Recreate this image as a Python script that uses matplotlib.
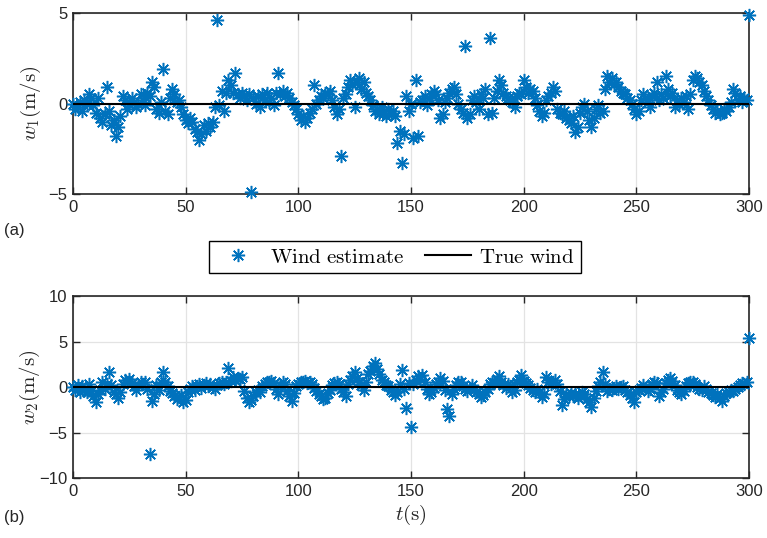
import numpy as np
import matplotlib
matplotlib.use("Agg")
import matplotlib.pyplot as plt

# time axis, one sample per second
t = np.arange(0, 301)

# wind estimate, east component w1 (m/s)
w1 = [
    0.0, -0.3, -0.2, 0.1, -0.4, 0.2, 0.0, 0.5, 0.3, -0.1,
    -0.5, 0.3, -0.8, -1.0, -0.6, 0.9, -0.4, -1.2, -0.9, -1.8,
    -1.3, -0.7, 0.4, 0.2, -0.3, 0.0, 0.3, 0.1, -0.2, 0.0,
    0.5, 0.2, -0.1, 0.6, 0.4, 1.2, 0.9, -0.3, -0.5, 0.1,
    1.9, -0.4, -0.6, 0.3, 0.8, 0.5, 0.1, 0.2, -0.2, -0.6,
    -0.9, -1.1, -0.8, -1.0, -1.4, -1.6, -2.0, -1.7, -1.2, -1.5,
    -1.1, -1.3, -1.0, -0.2, 4.6, -0.1, 0.7, -0.4, 0.6, 1.3,
    1.0, 0.6, 1.7, 0.5, 0.3, 0.6, 0.4, 0.2, 0.5, -4.9,
    0.3, 0.0, 0.4, -0.2, 0.5, 0.2, 0.6, 0.1, 0.3, -0.1,
    0.6, 1.7, 0.5, 0.7, 0.4, 0.6, 0.3, 0.1, -0.1, -0.3,
    -0.6, -0.9, -0.7, -1.0, -0.8, -0.5, -0.3, 1.0, 0.0, 0.2,
    0.4, 0.3, 0.6, 0.5, 0.7, 0.2, -0.2, -0.6, -0.3, -2.9,
    0.3, 0.5, 0.9, 1.3, 1.1, -0.2, 1.2, 1.4, 0.8, 1.2,
    0.6, 0.4, 0.2, -0.1, -0.4, -0.3, -0.6, -0.2, -0.5, -0.7,
    -0.3, -0.6, -0.4, -0.7, -2.2, -1.5, -3.3, -1.7, 0.4, -0.4,
    0.0, -1.9, 1.3, -1.8, 0.1, 0.2, 0.4, -0.1, 0.3, 0.5,
    0.7, 0.5, 0.2, -0.8, -0.6, 0.1, 0.3, 0.6, 0.8, 0.9,
    0.5, 0.0, -0.3, -0.5, 3.2, -0.8, -0.6, 0.2, 0.4, 0.1,
    -0.3, 0.5, 0.3, 0.8, -0.6, 3.6, -0.5, 0.3, 0.7, 1.3,
    1.0, 0.6, 0.4, 0.3, 0.2, 0.1, -0.2, 0.4, 0.6, 0.5,
    1.3, 0.9, 0.6, 0.8, 0.7, 0.3, -0.1, -0.4, -0.7, -0.5,
    0.2, 0.4, 0.6, 0.9, 0.7, -0.3, -0.5, -0.6, -0.4, -0.8,
    -0.9, -1.1, -0.7, -1.6, -1.3, -0.5, -0.2, 0.0, -0.4, -0.9,
    -1.3, -0.8, -0.3, -0.1, -0.5, -0.4, 0.8, 1.5, 1.2, 1.4,
    1.1, 1.2, 0.9, 0.7, 0.6, 0.5, 0.3, 0.2, 0.0, -0.3,
    -0.6, -0.4, 0.2, 0.5, 0.3, 0.1, -0.2, 0.4, 0.6, 1.2,
    0.2, 0.5, 0.3, 1.5, 0.8, 0.4, 0.6, -0.2, 0.2, 0.0,
    0.3, 0.1, 0.4, -0.3, 0.5, 1.3, 1.5, 1.4, 1.2, 1.0,
    0.7, 0.4, 0.2, -0.1, -0.3, -0.5, -0.4, -0.6, -0.5, -0.3,
    -0.4, -0.2, 0.1, 0.8, 0.6, 0.2, 0.4, 0.1, 0.3, 0.2,
    4.9,
]

# wind estimate, north component w2 (m/s)
w2 = [
    0.0, -0.3, 0.2, -0.5, 0.1, -0.2, -0.6, 0.3, -0.4, -1.0,
    -1.7, -0.8, -0.3, 0.6, -0.2, 0.3, 1.6, 0.2, -0.5, -0.8,
    -1.2, -0.6, 0.3, 0.8, 0.5, 0.9, 0.4, 0.1, -0.3, 0.2,
    0.5, 0.3, 0.6, -0.2, -7.4, -1.5, -0.8, 0.2, -0.3, 0.5,
    1.6, 0.5, 0.1, -0.4, -0.7, -1.0, -1.3, -1.1, -0.9, -1.7,
    -1.4, -0.6, -0.2, 0.1, -0.3, 0.1, 0.3, -0.1, 0.2, 0.4,
    0.1, 0.3, 0.0, -0.2, 0.2, 0.4, 0.6, 0.3, 0.5, 2.1,
    0.7, 1.1, 0.8, 1.0, 0.9, 1.1, -0.4, -1.2, -1.7, -1.4,
    -1.0, -0.6, -0.3, -0.6, 0.1, 0.3, 0.6, 0.5, 0.7, 0.4,
    -0.2, -0.8, 0.2, 0.6, 0.3, -0.4, -1.0, -1.5, -0.7, 0.1,
    0.3, 0.6, 0.5, 0.7, 0.4, 0.5, 0.3, -0.1, -0.4, -0.8,
    -1.0, -1.3, -1.2, -0.7, -0.3, 0.2, 0.4, 0.6, 0.3, -0.2,
    -0.5, -1.0, 0.3, 0.8, 1.2, 1.7, 1.0, 0.6, 0.2, -0.3,
    0.5, 1.4, 1.8, 2.3, 2.6, 2.0, 1.4, 0.8, 0.5, 0.2,
    0.1, -0.3, -0.6, -0.9, -0.5, 0.3, 1.9, -0.2, -2.3, 0.4,
    -4.4, 0.3, 0.8, 1.2, 0.9, 1.3, 0.6, -0.2, -0.8, -0.5,
    -0.1, 0.3, 0.6, 1.0, 0.7, -0.3, -2.4, -3.2, -0.8, -0.2,
    0.2, 0.6, 0.5, 0.1, -0.2, -0.4, -0.1, 0.2, -0.3, -0.6,
    -0.8, -1.1, -0.9, -0.5, -0.2, 0.3, 0.6, 0.4, 0.9, 1.2,
    0.6, 0.2, -0.1, 0.3, 0.1, -0.6, -0.3, 0.5, 0.8, 1.3,
    0.7, 0.4, 0.2, -0.1, -0.3, -0.5, -0.2, -0.6, -1.1, -0.8,
    1.1, 0.6, 0.3, 0.5, 0.8, 0.3, -0.4, -2.0, -1.3, -0.8,
    -1.0, -0.7, -1.0, -0.8, -1.2, -0.9, -0.5, -0.8, -1.3, -1.6,
    -2.2, -1.2, -0.4, 0.1, 0.6, 1.7, 0.3, -0.4, -0.2, -0.3,
    -0.1, 0.1, -0.2, 0.0, 0.1, -0.3, -0.6, -0.9, -1.2, -1.7,
    -0.6, -0.3, -0.1, 0.2, -0.1, -0.4, -0.2, 0.3, 0.6, 0.4,
    -1.0, -0.6, -0.2, 0.4, 0.8, 1.0, 0.7, 0.2, -0.3, -0.5,
    -0.8, -0.4, 0.1, 0.4, 0.6, 0.5, 0.3, 0.0, -0.2, -0.3,
    0.1, -0.2, -0.5, -0.7, -0.9, -1.1, -0.8, -1.2, -1.5, -1.0,
    -0.7, -0.5, -0.3, -0.4, -0.2, 0.0, 0.2, 0.4, 0.3, 0.5,
    5.4,
]

# true wind is zero in both directions
true_w = np.zeros(len(t))

x_ticks = [0, 50, 100, 150, 200, 250, 300]
y1_ticks = [-5, 0, 5]
y2_ticks = [-10, -5, 0, 5, 10]

plt.rcParams['mathtext.fontset'] = 'cm'
plt.rcParams['font.family'] = ['Liberation Sans', 'DejaVu Sans']

blue = '#0072BD'
axc = '#262626'
star = (8, 2, 0)   # asterisk like matlab '*'

fig = plt.figure(figsize=(7.67, 5.38), dpi=100)
ax1 = fig.add_axes([0.0952, 0.6394, 0.8813, 0.3364])
ax2 = fig.add_axes([0.0952, 0.1115, 0.8813, 0.3383])


def style_axis(ax, yticks, ylim):
    ax.set_xlim(0, 300)
    ax.set_ylim(*ylim)
    ax.set_xticks(x_ticks)
    ax.set_yticks(yticks)
    ax.tick_params(direction='in', length=5, width=1.0, top=True, right=True,
                   labelsize=12, colors=axc, pad=4)
    for s in ax.spines.values():
        s.set_color(axc)
        s.set_linewidth(1.2)
    ax.grid(True, color='#e3e3e3', linewidth=0.9)
    ax.set_axisbelow(True)


ax1.plot(t, w1, linestyle='none', marker=star, markersize=9.5,
         markeredgewidth=1.1, color=blue, clip_on=False, label='Wind estimate', zorder=3)
ax1.plot(t, true_w, color='black', linewidth=1.5, label='True wind', zorder=4)
style_axis(ax1, y1_ticks, (-5, 5))
ax1.set_ylabel(r'$w_1\mathrm{(m/s)}$', fontsize=15, color=axc, labelpad=4)

ax2.plot(t, w2, linestyle='none', marker=star, markersize=9.5,
         markeredgewidth=1.1, color=blue, clip_on=False, zorder=3)
ax2.plot(t, true_w, color='black', linewidth=1.5, zorder=4)
style_axis(ax2, y2_ticks, (-10, 10))
ax2.set_ylabel(r'$w_2\mathrm{(m/s)}$', fontsize=15, color=axc, labelpad=-2)
ax2.set_xlabel(r'$t\mathrm{(s)}$', fontsize=15, color=axc, labelpad=3)

handles, labels = ax1.get_legend_handles_labels()
leg = fig.legend(handles, [r'$\mathrm{Wind\ estimate}$', r'$\mathrm{True\ wind}$'],
                 loc='center', bbox_to_anchor=(0.515, 0.522), ncol=2,
                 fontsize=15, frameon=True, fancybox=False, framealpha=1,
                 edgecolor='black', handlelength=2.2, handletextpad=0.4,
                 columnspacing=1.0, borderpad=0.3)
leg.get_frame().set_linewidth(1.0)

fig.text(0.005, 0.571, '(a)', fontsize=12, color=axc, va='center')
fig.text(0.005, 0.039, '(b)', fontsize=12, color=axc, va='center')

plt.savefig('out.png', dpi=100)
